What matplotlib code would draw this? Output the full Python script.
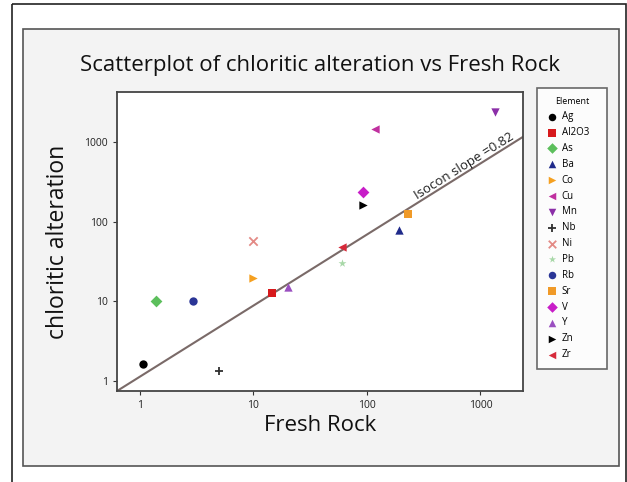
import numpy as np
import matplotlib
matplotlib.use("Agg")
import matplotlib.pyplot as plt
from matplotlib.patches import Rectangle

plt.rcParams['font.family'] = ['Open Sans', 'DejaVu Sans']

# Data (log-log scatter)
elements = ["Ag", "Al2O3", "As", "Ba", "Co", "Cu", "Mn", "Nb",
            "Ni", "Pb", "Rb", "Sr", "V", "Y", "Zn", "Zr"]
fresh_rock = [1.07, 14.6, 1.4, 192, 10, 118, 1343, 5.0,
              10, 60, 2.95, 231, 92, 20, 92, 60]
chloritic = [1.62, 12.6, 10, 80, 19.5, 1463, 2377, 1.34,
             57, 30, 10, 126, 237, 15.3, 164, 49]
markers = ["o", "s", "D", "^", ">", "<", "v", "+",
           "x", "*", "o", "s", "D", "^", ">", "<"]
colors = ["#000000", "#d7191c", "#5cbf5c", "#1f2a8a", "#f5a020", "#c0309f",
          "#8b2fa8", "#303030", "#e38a85", "#a8d8a8", "#2a3596", "#f09a28",
          "#c81ec8", "#9a4fc0", "#000000", "#d62a3a"]

# isocon line end points
isocon_x = [0.63, 2370]
isocon_y = [0.75, 1170]
isocon_label = "Isocon slope =0.82"
isocon_text_x = 285

W, H = 627, 482
fig = plt.figure(figsize=(W / 100, H / 100), dpi=100)
fig.patch.set_facecolor("white")

# background axes holding the outer frame and grey panel
bg = fig.add_axes([0, 0, 1, 1], zorder=-5)
bg.set_xlim(0, W)
bg.set_ylim(H, 0)
bg.axis("off")
bg.add_patch(Rectangle((12, 4), 614, 490, fill=False, edgecolor="#222222", lw=1.2))
bg.add_patch(Rectangle((23, 29), 596, 437, facecolor="#f3f3f3",
                       edgecolor="#555555", lw=1.2))

ax = fig.add_axes([117 / W, 1 - 391 / H, 406 / W, 299 / H])
ax.set_facecolor("white")

for el, x, y, m, c in zip(elements, fresh_rock, chloritic, markers, colors):
    lw = 1.3 if m in ("+", "x") else 0
    ax.scatter(x, y, marker=m, s=36, color=c, linewidths=lw, label=el, zorder=3)

ax.plot(isocon_x, isocon_y, color="#7a6a68", lw=1.5, zorder=2)

ax.set_xscale("log")
ax.set_yscale("log")
ax.set_xlim(0.63, 2370)
ax.set_ylim(0.75, 4280)
ax.set_xticks([1, 10, 100, 1000])
ax.set_xticklabels(["1", "10", "100", "1000"])
ax.set_yticks([1, 10, 100, 1000])
ax.set_yticklabels(["1", "10", "100", "1000"])
ax.minorticks_off()
ax.tick_params(labelsize=7.5, length=3, color="#333333", labelcolor="#222222")
for s in ax.spines.values():
    s.set_color("#444444")
    s.set_linewidth(1.3)

# isocon label rotated along the line
p0 = ax.transData.transform((isocon_x[0], isocon_y[0]))
p1 = ax.transData.transform((isocon_x[1], isocon_y[1]))
ang = np.degrees(np.arctan2(p1[1] - p0[1], p1[0] - p0[0]))
ty = np.exp(np.interp(np.log(isocon_text_x), np.log(isocon_x), np.log(isocon_y)))
ax.text(isocon_text_x, ty * 1.01, isocon_label, rotation=ang, rotation_mode="anchor",
        ha="left", va="bottom", fontsize=9.5, color="#222222")

fig.text(320 / W, 1 - 65 / H, "Scatterplot of chloritic alteration vs Fresh Rock",
         ha="center", va="center", fontsize=16, color="#111111")
ax.set_xlabel("Fresh Rock", fontsize=16, color="#111111", labelpad=3)
ax.set_ylabel("chloritic alteration", fontsize=16.5, color="#111111", labelpad=10)

leg = fig.legend(loc="upper left",
                 bbox_to_anchor=(537 / W, 1 - 93 / H, 70 / W, 0.01),
                 mode="expand", borderaxespad=0,
                 title="Element", fontsize=7, title_fontsize=6.5,
                 frameon=True, fancybox=False, edgecolor="#444444",
                 labelspacing=0.5, handletextpad=0.4, borderpad=0.95,
                 handlelength=1.2, markerscale=0.9)
leg.get_frame().set_linewidth(1.2)
leg.get_frame().set_facecolor("white")

fig.savefig("out.png", dpi=100)
